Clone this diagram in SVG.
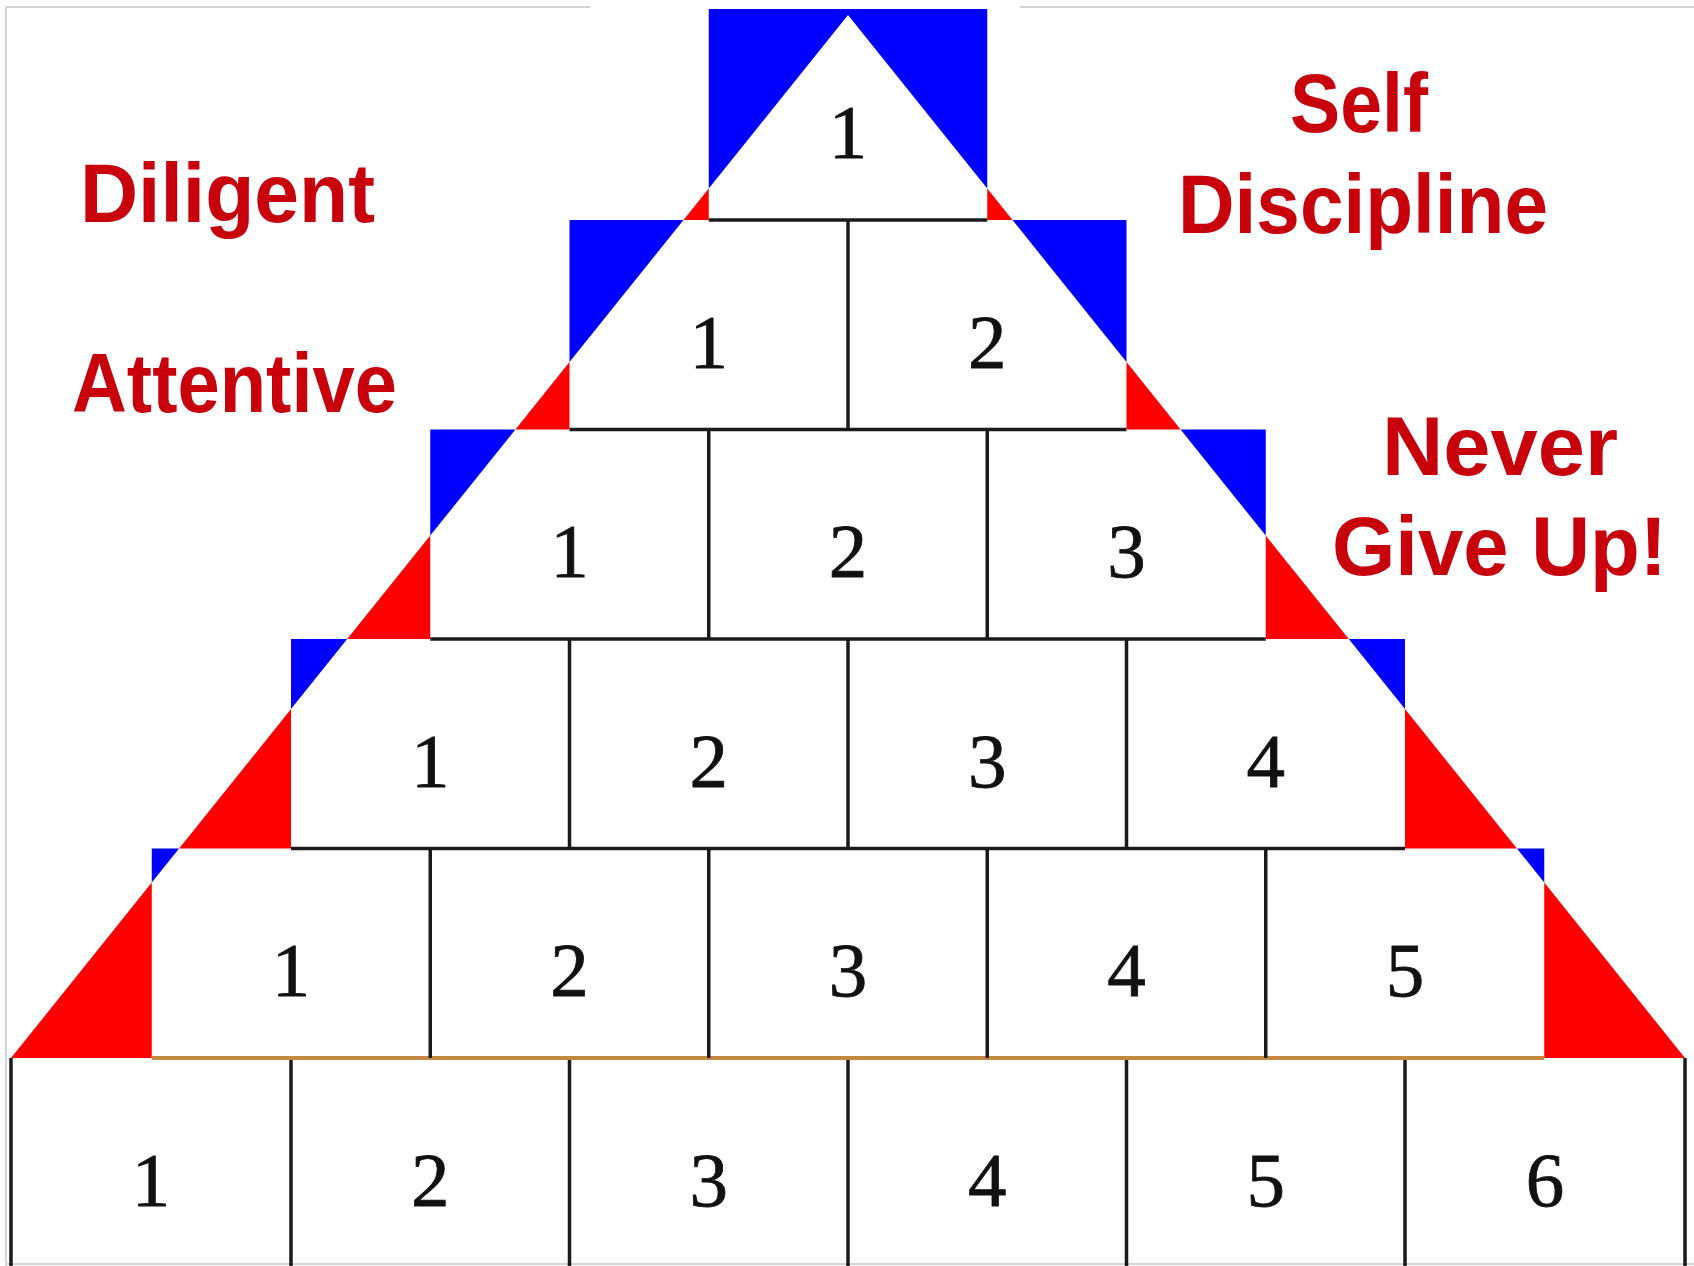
<svg xmlns="http://www.w3.org/2000/svg" width="1694" height="1266" viewBox="0 0 1694 1266">
<style>
.num{font-family:"Liberation Serif","DejaVu Serif",serif;font-size:77px;fill:#111;stroke:#111;stroke-width:0.8;text-anchor:middle}
.lbl{font-family:"Liberation Sans",Arial,sans-serif;font-weight:bold;font-size:84px;fill:#c8000c}
.ln{stroke:#1a1a1a;stroke-width:3.5;fill:none}
.bl{fill:#0000ff}
.rd{fill:#ff0000}
.frame{stroke:#d4d4d4;stroke-width:2;fill:none}
</style>
<rect width="1694" height="1266" fill="#ffffff"/>
<g id="frame">
<line class="frame" x1="6" y1="7" x2="6" y2="1266"/>
<line class="frame" x1="6" y1="7" x2="590" y2="7"/>
<line class="frame" x1="1020" y1="7" x2="1694" y2="7"/>
<line class="frame" x1="6" y1="1264" x2="1694" y2="1264"/>
</g>
<g id="blue-corners">
<polygon class="bl" points="708.75,9 987.25,9 987.25,188.5 848,15 708.75,188.5"/>
<polygon class="bl" points="569.5,220 683.5,220 569.5,362"/>
<polygon class="bl" points="1126.5,220 1012.5,220 1126.5,362"/>
<polygon class="bl" points="430.25,429.5 515.4,429.5 430.25,535.6"/>
<polygon class="bl" points="1265.75,429.5 1180.6,429.5 1265.75,535.6"/>
<polygon class="bl" points="291,639 347.2,639 291,709.1"/>
<polygon class="bl" points="1405,639 1348.8,639 1405,709.1"/>
<polygon class="bl" points="151.75,848.5 179.1,848.5 151.75,882.6"/>
<polygon class="bl" points="1544.25,848.5 1516.9,848.5 1544.25,882.6"/>
</g>
<g id="red-corners">
<polygon class="rd" points="708.75,188.5 708.75,220 683.5,220"/>
<polygon class="rd" points="987.25,188.5 987.25,220 1012.5,220"/>
<polygon class="rd" points="569.5,362 569.5,429.5 515.4,429.5"/>
<polygon class="rd" points="1126.5,362 1126.5,429.5 1180.6,429.5"/>
<polygon class="rd" points="430.25,535.6 430.25,639 347.2,639"/>
<polygon class="rd" points="1265.75,535.6 1265.75,639 1348.8,639"/>
<polygon class="rd" points="291,709.1 291,848.5 179.1,848.5"/>
<polygon class="rd" points="1405,709.1 1405,848.5 1516.9,848.5"/>
<polygon class="rd" points="151.75,882.6 151.75,1058 11,1058"/>
<polygon class="rd" points="1544.25,882.6 1544.25,1058 1685,1058"/>
</g>
<g id="connectors">
<line class="ln" x1="708.75" y1="220" x2="987.25" y2="220"/>
<line class="ln" x1="569.5" y1="429.5" x2="1126.5" y2="429.5"/>
<line class="ln" x1="430.25" y1="639" x2="1265.75" y2="639"/>
<line class="ln" x1="291" y1="848.5" x2="1405" y2="848.5"/>
<line x1="151.75" y1="1058" x2="1544.25" y2="1058" stroke="#c4893f" stroke-width="4"/>
<line class="ln" x1="848" y1="220" x2="848" y2="429.5"/>
<line class="ln" x1="708.75" y1="429.5" x2="708.75" y2="639"/>
<line class="ln" x1="987.25" y1="429.5" x2="987.25" y2="639"/>
<line class="ln" x1="569.5" y1="639" x2="569.5" y2="848.5"/>
<line class="ln" x1="848" y1="639" x2="848" y2="848.5"/>
<line class="ln" x1="1126.5" y1="639" x2="1126.5" y2="848.5"/>
<line class="ln" x1="430.25" y1="848.5" x2="430.25" y2="1058"/>
<line class="ln" x1="708.75" y1="848.5" x2="708.75" y2="1058"/>
<line class="ln" x1="987.25" y1="848.5" x2="987.25" y2="1058"/>
<line class="ln" x1="1265.75" y1="848.5" x2="1265.75" y2="1058"/>
<line class="ln" x1="11" y1="1058" x2="11" y2="1266"/>
<line class="ln" x1="291" y1="1060" x2="291" y2="1266"/>
<line class="ln" x1="569.5" y1="1060" x2="569.5" y2="1266"/>
<line class="ln" x1="848" y1="1060" x2="848" y2="1266"/>
<line class="ln" x1="1126.5" y1="1060" x2="1126.5" y2="1266"/>
<line class="ln" x1="1405" y1="1060" x2="1405" y2="1266"/>
<line class="ln" x1="1685" y1="1058" x2="1685" y2="1266"/>
</g>
<g id="row1"><g id="r1c1"><text class="num" x="848" y="158">1</text></g></g>
<g id="row2">
<g id="r2c1"><text class="num" x="708.75" y="367.5">1</text></g>
<g id="r2c2"><text class="num" x="987.25" y="367.5">2</text></g>
</g>
<g id="row3">
<g id="r3c1"><text class="num" x="569.5" y="577">1</text></g>
<g id="r3c2"><text class="num" x="848" y="577">2</text></g>
<g id="r3c3"><text class="num" x="1126.5" y="577">3</text></g>
</g>
<g id="row4">
<g id="r4c1"><text class="num" x="430.25" y="786.5">1</text></g>
<g id="r4c2"><text class="num" x="708.75" y="786.5">2</text></g>
<g id="r4c3"><text class="num" x="987.25" y="786.5">3</text></g>
<g id="r4c4"><text class="num" x="1265.75" y="786.5">4</text></g>
</g>
<g id="row5">
<g id="r5c1"><text class="num" x="291" y="996">1</text></g>
<g id="r5c2"><text class="num" x="569.5" y="996">2</text></g>
<g id="r5c3"><text class="num" x="848" y="996">3</text></g>
<g id="r5c4"><text class="num" x="1126.5" y="996">4</text></g>
<g id="r5c5"><text class="num" x="1405" y="996">5</text></g>
</g>
<g id="row6">
<g id="r6c1"><text class="num" x="151" y="1205.5">1</text></g>
<g id="r6c2"><text class="num" x="430.25" y="1205.5">2</text></g>
<g id="r6c3"><text class="num" x="708.75" y="1205.5">3</text></g>
<g id="r6c4"><text class="num" x="987.25" y="1205.5">4</text></g>
<g id="r6c5"><text class="num" x="1265.75" y="1205.5">5</text></g>
<g id="r6c6"><text class="num" x="1545" y="1205.5">6</text></g>
</g>
<g id="labels">
<text class="lbl" x="80" y="222" textLength="295" lengthAdjust="spacingAndGlyphs">Diligent</text>
<text class="lbl" x="72" y="412" textLength="325" lengthAdjust="spacingAndGlyphs">Attentive</text>
<text class="lbl" x="1290" y="132" textLength="138" lengthAdjust="spacingAndGlyphs">Self</text>
<text class="lbl" x="1178" y="233" textLength="370" lengthAdjust="spacingAndGlyphs">Discipline</text>
<text class="lbl" x="1382" y="475" textLength="236" lengthAdjust="spacingAndGlyphs">Never</text>
<text class="lbl" x="1332" y="575" textLength="335" lengthAdjust="spacingAndGlyphs">Give Up!</text>
</g>
</svg>
